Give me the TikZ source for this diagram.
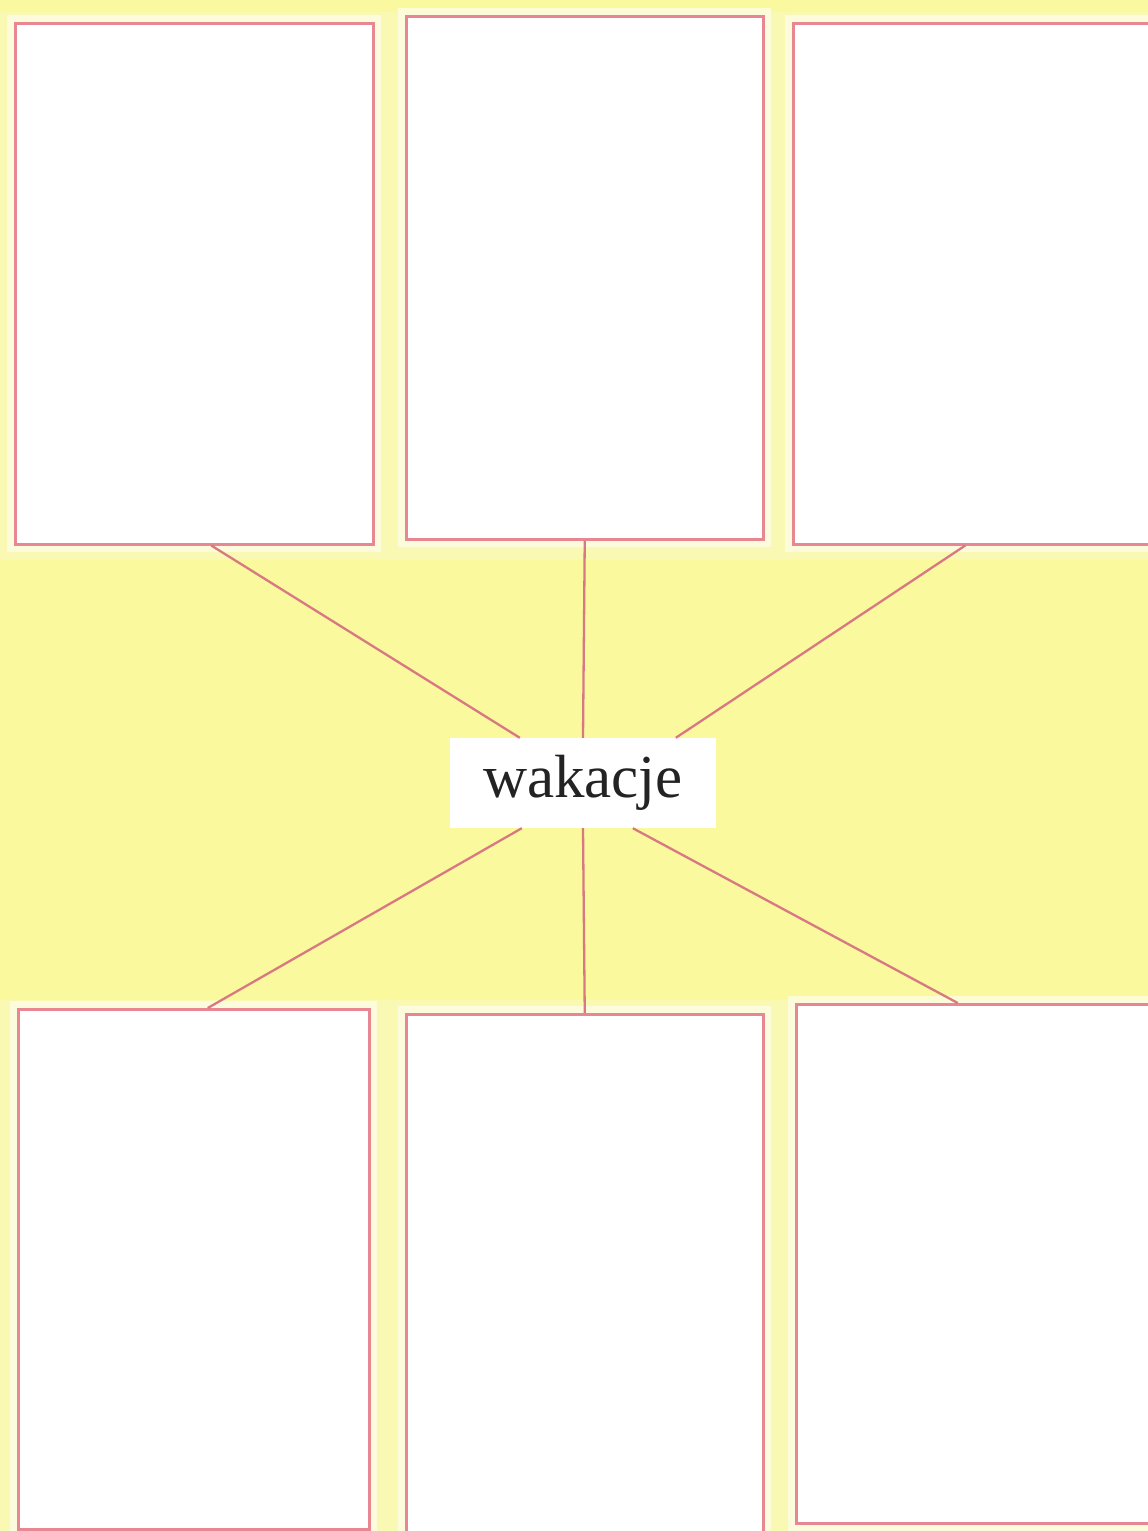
\documentclass[tikz,border=0pt]{standalone}
\usepackage{fontspec}
\setmainfont{Liberation Serif}
\usetikzlibrary{calc}
\definecolor{bgyellow}{RGB}{250,249,180}
\definecolor{brightyellow}{RGB}{253,250,140}
\definecolor{boxred}{RGB}{232,135,145}
\definecolor{linered}{RGB}{215,120,130}
\definecolor{textgray}{RGB}{35,35,35}
\tikzset{
  framebox/.style={draw=boxred, line width=2.5pt, fill=white, inner sep=0pt, anchor=north west,
    preaction={draw=white, line width=16pt, opacity=0.55}},
  spoke/.style={draw=linered, line width=2.3pt},
  centerbox/.style={fill=white, inner sep=0pt, minimum width=266pt, minimum height=90pt,
    text=textgray, font=\fontsize{61}{61}\selectfont}
}
\begin{document}
\begin{tikzpicture}[x=1pt,y=-1pt]
\useasboundingbox (0,0) rectangle (1148,1531);
\fill[bgyellow] (0,0) rectangle (1148,1531);
\fill[brightyellow, opacity=0.55] (0,560) rectangle (1148,1000);
\fill[brightyellow, opacity=0.5] (0,0) rectangle (1148,12);
% boxes
\node[framebox, minimum width=358pt, minimum height=521pt] (tl) at (14,22) {};
\node[framebox, minimum width=357pt, minimum height=523pt] (tm) at (405,15) {};
\node[framebox, minimum width=366pt, minimum height=521pt] (tr) at (792,22) {};
\node[framebox, minimum width=351pt, minimum height=520pt] (bl) at (17,1008) {};
\node[framebox, minimum width=357pt, minimum height=530pt] (bm) at (405,1013) {};
\node[framebox, minimum width=363pt, minimum height=519pt] (br) at (795,1003) {};
% center
\node[centerbox] (c) at (583,783) {wakacje};
\coordinate (e1) at ($(c.north west)+(70,0)$);
\coordinate (e3) at ($(c.north west)+(226,0)$);
\coordinate (e4) at ($(c.south west)+(72,0)$);
\coordinate (e6) at ($(c.south west)+(183,0)$);
% spokes
\draw[spoke] ([xshift=17pt]tl.south) -- (e1);
\draw[spoke] (tm.south) -- (c.north);
\draw[spoke] ([xshift=-11pt]tr.south) -- (e3);
\draw[spoke] ([xshift=14pt]bl.north) -- (e4);
\draw[spoke] (bm.north) -- (c.south);
\draw[spoke] ([xshift=-20pt]br.north) -- (e6);
\end{tikzpicture}
\end{document}
